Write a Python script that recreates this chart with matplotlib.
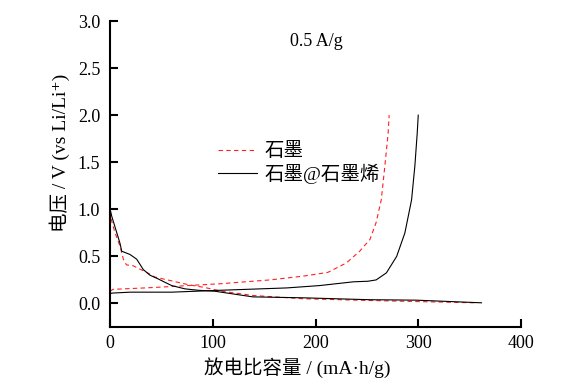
import matplotlib
matplotlib.use("Agg")
import matplotlib.pyplot as plt

plt.rcParams['font.family'] = ['Liberation Serif', 'Noto Sans CJK SC', 'DejaVu Sans']
plt.rcParams['mathtext.fontset'] = 'stix'

# Graphite (red dashed) discharge / charge
g_dis_x = [0, 0.3, 1.5, 4.9, 9.7, 13, 16, 22.7, 28, 34, 43.8, 60, 76, 92, 108.6, 139, 188, 251, 300, 355]
g_dis_y = [2.55, 1.0, 0.88, 0.75, 0.61, 0.47, 0.41, 0.40, 0.37, 0.34, 0.28, 0.24, 0.20, 0.17, 0.13, 0.085, 0.05, 0.032, 0.02, 0.007]
g_chg_x = [0, 3, 34, 60, 108, 155.6, 188, 212, 230, 243, 253, 259, 264, 267.5, 270.7, 271.7]
g_chg_y = [0.13, 0.15, 0.165, 0.18, 0.21, 0.25, 0.29, 0.33, 0.43, 0.555, 0.68, 0.86, 1.10, 1.46, 1.81, 2.0]

# Graphite@graphene (black solid) discharge / charge
gg_dis_x = [0, 0, 1.6, 9.7, 11.4, 19.5, 26, 32.4, 38.9, 47, 60, 73, 86, 102, 139, 188, 252, 298, 361.5]
gg_dis_y = [1.35, 1.0, 0.93, 0.64, 0.555, 0.52, 0.47, 0.36, 0.30, 0.26, 0.19, 0.155, 0.14, 0.13, 0.07, 0.06, 0.04, 0.035, 0.007]
gg_chg_x = [0, 1.6, 20, 60, 107, 172, 204, 237, 251, 259, 269, 279, 287, 293.5, 296.7, 299, 300]
gg_chg_y = [0.10, 0.11, 0.12, 0.12, 0.14, 0.165, 0.19, 0.23, 0.236, 0.25, 0.325, 0.50, 0.75, 1.10, 1.46, 1.81, 2.0]

labels = ['石墨', '石墨@石墨烯']
xticks = [0, 100, 200, 300, 400]
yticks = [0.0, 0.5, 1.0, 1.5, 2.0, 2.5, 3.0]

fig = plt.figure(figsize=(5.67, 3.8), dpi=100)
ax = fig.add_axes([110/567, 1-327/380, (521-110)/567, (327-21)/380])

red = '#ff2020'
ax.plot(g_dis_x, g_dis_y, color=red, lw=0.8, ls=(0, (4, 3)), label=labels[0])
ax.plot(g_chg_x, g_chg_y, color=red, lw=0.8, ls=(0, (4, 3)))
ax.plot(gg_dis_x, gg_dis_y, color='black', lw=0.8, label=labels[1])
ax.plot(gg_chg_x, gg_chg_y, color='black', lw=0.8)

ax.set_xlim(0, 400)
ax.set_ylim(-0.25, 3.0)
ax.set_xticks(xticks)
ax.set_yticks(yticks)
ax.set_yticklabels([f'{v:.1f}' for v in yticks])
for s in ['top', 'right']:
    ax.spines[s].set_visible(False)
for s in ['left', 'bottom']:
    ax.spines[s].set_linewidth(1.5)
ax.tick_params(direction='in', length=6, width=1.5, labelsize=13)
ax.tick_params(axis='y', pad=7)
ax.tick_params(axis='x', pad=6)

ax.set_xlabel('放电比容量 / (mA·h/g)', fontsize=14)
ax.set_ylabel('电压 / V (vs Li/Li\u207a)', fontsize=14)
ax.xaxis.set_label_coords(0.455, -0.10)
ax.yaxis.set_label_coords(-0.097, 0.57)

ax.text(175, 2.78, '0.5 A/g', fontsize=13, ha='left', va='center')

leg = ax.legend(loc='center left', bbox_to_anchor=(218/567, 1-163/380),
                bbox_transform=fig.transFigure, frameon=False, fontsize=14,
                borderpad=0, borderaxespad=0, handlelength=2.0,
                handletextpad=0.4, labelspacing=0.15)

fig.savefig('out.png', dpi=100)
